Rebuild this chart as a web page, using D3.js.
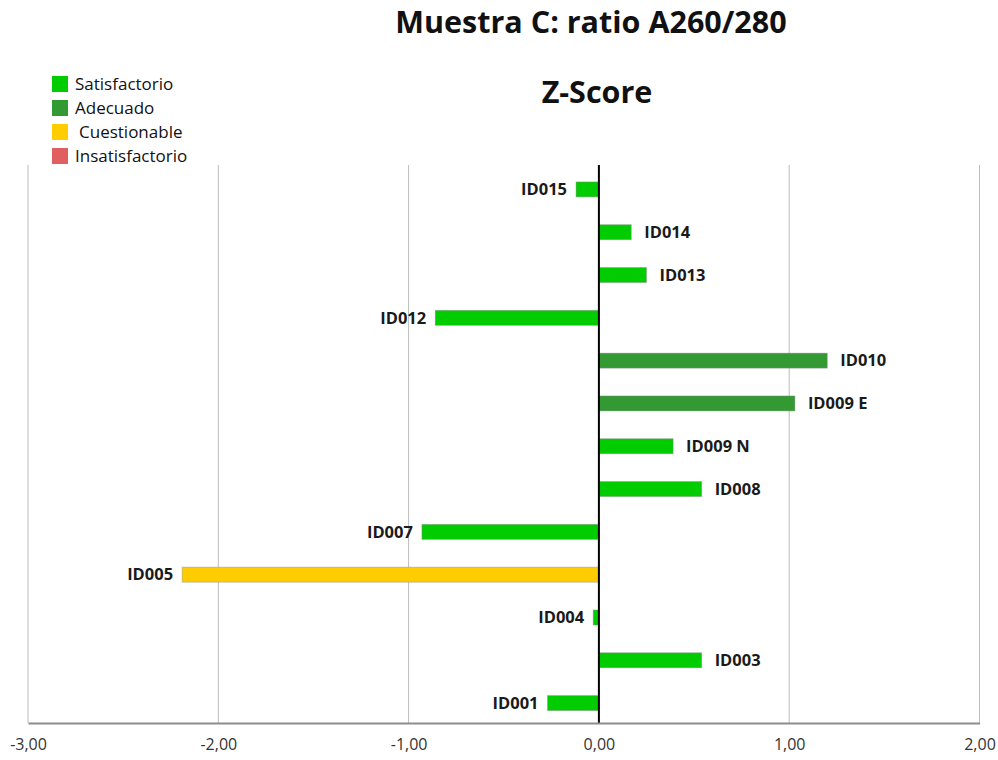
<!DOCTYPE html>
<html>
<head>
<meta charset="utf-8">
<script src="https://cdn.jsdelivr.net/npm/d3@7"></script>
<style>
  body { margin: 0; background: #fff; }
  svg { display: block; font-family: "Open Sans", sans-serif; }
</style>
</head>
<body>
<svg id="chart" width="998" height="760"></svg>
<script>
// chart data, top row first
var ids = ["ID015", "ID014", "ID013", "ID012", "ID010", "ID009 E", "ID009 N",
           "ID008", "ID007", "ID005", "ID004", "ID003", "ID001"];
var zscores = [-0.12, 0.17, 0.25, -0.86, 1.20, 1.03, 0.39,
               0.54, -0.93, -2.19, -0.03, 0.54, -0.27];
var barStatus = ["Satisfactorio", "Satisfactorio", "Satisfactorio", "Satisfactorio",
                 "Adecuado", "Adecuado", "Satisfactorio", "Satisfactorio",
                 "Satisfactorio", "Cuestionable", "Satisfactorio", "Satisfactorio",
                 "Satisfactorio"];
var categories = ["Satisfactorio", "Adecuado", "Cuestionable", "Insatisfactorio"];
var catColors = ["#00cc00", "#339933", "#ffcc00", "#e06060"];
var xTicks = [-3, -2, -1, 0, 1, 2];

var data = ids.map(function(d, i) {
  return {id: d, z: zscores[i], status: barStatus[i]};
});

var svg = d3.select("#chart");

var x = d3.scaleLinear()
    .domain([-3, 2])
    .range([28, 979.5]);

var y = d3.scaleBand()
    .domain(ids)
    .range([168, 724.5])
    .paddingInner(0.65)
    .paddingOuter(0.325);

var color = d3.scaleOrdinal()
    .domain(categories)
    .range(catColors);

var plotTop = 165, plotBottom = 723;

// vertical gridlines
svg.append("g")
    .selectAll("line")
    .data(xTicks.filter(function(t) { return t !== 0; }))
    .enter().append("line")
    .attr("x1", function(d) { return x(d); })
    .attr("x2", function(d) { return x(d); })
    .attr("y1", plotTop)
    .attr("y2", plotBottom)
    .attr("stroke", "#bcbcbc")
    .attr("stroke-width", 1);

// bars
svg.append("g")
    .selectAll("rect")
    .data(data)
    .enter().append("rect")
    .attr("x", function(d) { return x(Math.min(0, d.z)); })
    .attr("y", function(d) { return y(d.id); })
    .attr("width", function(d) { return Math.abs(x(d.z) - x(0)); })
    .attr("height", y.bandwidth())
    .attr("fill", function(d) { return color(d.status); })
    .attr("stroke", "rgba(140,140,140,0.55)")
    .attr("stroke-width", 0.8);

// zero line
svg.append("line")
    .attr("x1", x(0)).attr("x2", x(0))
    .attr("y1", plotTop).attr("y2", plotBottom)
    .attr("stroke", "#000")
    .attr("stroke-width", 2);

// bar labels
svg.append("g")
    .selectAll("text")
    .data(data)
    .enter().append("text")
    .attr("x", function(d) { return d.z < 0 ? x(d.z) - 9 : x(d.z) + 13; })
    .attr("y", function(d) { return y(d.id) + y.bandwidth() / 2; })
    .attr("dy", "0.35em")
    .attr("text-anchor", function(d) { return d.z < 0 ? "end" : "start"; })
    .style("font-size", "16.5px")
    .style("font-weight", "bold")
    .attr("fill", "#1a1a1a")
    .text(function(d) { return d.id; });

// x axis
var fmt = function(d) { return d3.format(".2f")(d).replace(".", ",").replace("−", "-"); };
var xAxis = svg.append("g")
    .attr("transform", "translate(0," + plotBottom + ")")
    .call(d3.axisBottom(x).tickValues(xTicks).tickFormat(fmt).tickSize(0).tickPadding(16));
xAxis.select(".domain").attr("stroke", "#8c8c8c").attr("stroke-width", 2);
xAxis.selectAll("text")
    .style("font-family", "'Open Sans', sans-serif")
    .style("font-size", "16px")
    .attr("fill", "#333");

// titles
svg.append("text")
    .attr("x", 591).attr("y", 33)
    .attr("text-anchor", "middle")
    .style("font-size", "30.5px").style("font-weight", "bold")
    .attr("fill", "#111")
    .text("Muestra C: ratio A260/280");
svg.append("text")
    .attr("x", 597).attr("y", 103)
    .attr("text-anchor", "middle")
    .style("font-size", "30.5px").style("font-weight", "bold")
    .attr("fill", "#111")
    .text("Z-Score");

// legend
var legend = svg.append("g").attr("transform", "translate(52,76)");
var items = legend.selectAll("g")
    .data(categories)
    .enter().append("g")
    .attr("transform", function(d, i) { return "translate(0," + i * 24 + ")"; });
items.append("rect")
    .attr("width", 16).attr("height", 16)
    .attr("fill", function(d) { return color(d); });
items.append("text")
    .attr("x", function(d) { return d === "Cuestionable" ? 27 : 23; })
    .attr("y", 8).attr("dy", "0.35em")
    .style("font-size", "17px")
    .attr("fill", "#111")
    .text(function(d) { return d; });
</script>
</body>
</html>
